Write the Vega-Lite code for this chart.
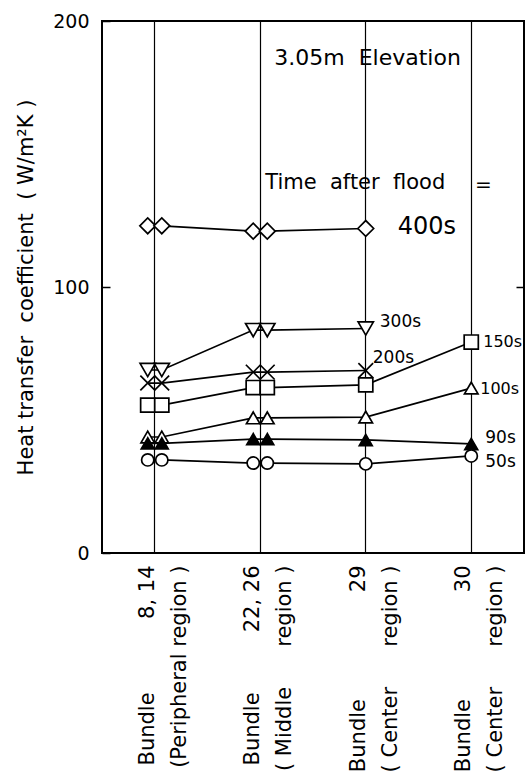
{
  "$schema": "https://vega.github.io/schema/vega-lite/v6.json",
  "width": 422,
  "height": 532,
  "autosize": {"type": "none"},
  "padding": {"left": 102, "top": 21, "right": 2, "bottom": 223},
  "background": "white",
  "config": {"view": {"stroke": "black", "strokeWidth": 2}, "font": "DejaVu Sans", "text": {"font": "DejaVu Sans", "color": "black"}},
  "data": {"values": [
    {"series": "400s", "bundle": 8, "region": "8, 14", "member": "first", "value": 123},
    {"series": "400s", "bundle": 14, "region": "8, 14", "member": "second", "value": 123},
    {"series": "400s", "bundle": 22, "region": "22, 26", "member": "first", "value": 121},
    {"series": "400s", "bundle": 26, "region": "22, 26", "member": "second", "value": 121},
    {"series": "400s", "bundle": 29, "region": "29", "member": "single", "value": 122},
    {"series": "300s", "bundle": 8, "region": "8, 14", "member": "first", "value": 68.8},
    {"series": "300s", "bundle": 14, "region": "8, 14", "member": "second", "value": 68.8},
    {"series": "300s", "bundle": 22, "region": "22, 26", "member": "first", "value": 83.8},
    {"series": "300s", "bundle": 26, "region": "22, 26", "member": "second", "value": 83.8},
    {"series": "300s", "bundle": 29, "region": "29", "member": "single", "value": 84.4},
    {"series": "200s", "bundle": 8, "region": "8, 14", "member": "first", "value": 63.9},
    {"series": "200s", "bundle": 14, "region": "8, 14", "member": "second", "value": 63.9},
    {"series": "200s", "bundle": 22, "region": "22, 26", "member": "first", "value": 68},
    {"series": "200s", "bundle": 26, "region": "22, 26", "member": "second", "value": 68},
    {"series": "200s", "bundle": 29, "region": "29", "member": "single", "value": 68.6},
    {"series": "150s", "bundle": 8, "region": "8, 14", "member": "first", "value": 55.6},
    {"series": "150s", "bundle": 14, "region": "8, 14", "member": "second", "value": 55.6},
    {"series": "150s", "bundle": 22, "region": "22, 26", "member": "first", "value": 62.2},
    {"series": "150s", "bundle": 26, "region": "22, 26", "member": "second", "value": 62.2},
    {"series": "150s", "bundle": 29, "region": "29", "member": "single", "value": 63.2},
    {"series": "150s", "bundle": 30, "region": "30", "member": "single", "value": 79.3},
    {"series": "100s", "bundle": 8, "region": "8, 14", "member": "first", "value": 43.6},
    {"series": "100s", "bundle": 14, "region": "8, 14", "member": "second", "value": 43.6},
    {"series": "100s", "bundle": 22, "region": "22, 26", "member": "first", "value": 50.8},
    {"series": "100s", "bundle": 26, "region": "22, 26", "member": "second", "value": 50.8},
    {"series": "100s", "bundle": 29, "region": "29", "member": "single", "value": 51.1},
    {"series": "100s", "bundle": 30, "region": "30", "member": "single", "value": 62},
    {"series": "90s", "bundle": 8, "region": "8, 14", "member": "first", "value": 41.2},
    {"series": "90s", "bundle": 14, "region": "8, 14", "member": "second", "value": 41.2},
    {"series": "90s", "bundle": 22, "region": "22, 26", "member": "first", "value": 42.8},
    {"series": "90s", "bundle": 26, "region": "22, 26", "member": "second", "value": 42.8},
    {"series": "90s", "bundle": 29, "region": "29", "member": "single", "value": 42.5},
    {"series": "90s", "bundle": 30, "region": "30", "member": "single", "value": 41},
    {"series": "50s", "bundle": 8, "region": "8, 14", "member": "first", "value": 35},
    {"series": "50s", "bundle": 14, "region": "8, 14", "member": "second", "value": 35},
    {"series": "50s", "bundle": 22, "region": "22, 26", "member": "first", "value": 33.8},
    {"series": "50s", "bundle": 26, "region": "22, 26", "member": "second", "value": 33.8},
    {"series": "50s", "bundle": 29, "region": "29", "member": "single", "value": 33.5},
    {"series": "50s", "bundle": 30, "region": "30", "member": "single", "value": 36.5}
  ]},
  "resolve": {"axis": {"y": "independent"}},
  "layer": [
    {
      "encoding": {
        "x": {
          "field": "region", "type": "nominal",
          "sort": ["8, 14", "22, 26", "29", "30"],
          "scale": {"type": "band", "paddingInner": 0, "paddingOuter": 0},
          "axis": {
            "title": null, "domain": false, "ticks": false,
            "grid": true, "gridColor": "black", "gridWidth": 1.2, "gridOpacity": 1, "bandPosition": 0.5,
            "labelAngle": -90, "labelAlign": "right", "labelBaseline": "middle", "labelOffset": -7,
            "labelFontSize": 21, "labelLineHeight": 32, "labelPadding": 12, "labelColor": "black", "labelFont": "DejaVu Sans",
            "labelLimit": 0, "labelOverlap": false, "labelBound": false,
            "labelExpr": "datum.value == '8, 14' ? ['Bundle\u00a0\u00a0\u00a0\u00a0\u00a0\u00a0\u00a0\u00a0\u00a0\u00a0\u00a08,\u00a014', '(Peripheral\u00a0region\u00a0)'] : datum.value == '22, 26' ? ['Bundle\u00a0\u00a0\u00a0\u00a0\u00a0\u00a0\u00a0\u00a0\u00a022,\u00a026', '(\u00a0Middle\u00a0\u00a0\u00a0\u00a0\u00a0\u00a0region\u00a0)\u00a0\u00a0\u00a0'] : datum.value == '29' ? ['Bundle\u00a0\u00a0\u00a0\u00a0\u00a0\u00a0\u00a0\u00a0\u00a0\u00a0\u00a0\u00a0\u00a0\u00a0\u00a0\u00a029\u00a0\u00a0\u00a0', '(\u00a0Center\u00a0\u00a0\u00a0\u00a0\u00a0\u00a0region\u00a0)\u00a0\u00a0'] : ['Bundle\u00a0\u00a0\u00a0\u00a0\u00a0\u00a0\u00a0\u00a0\u00a0\u00a0\u00a0\u00a0\u00a0\u00a0\u00a0\u00a030\u00a0\u00a0\u00a0', '(\u00a0Center\u00a0\u00a0\u00a0\u00a0\u00a0\u00a0region\u00a0)\u00a0\u00a0']"
          }
        },
        "xOffset": {
          "field": "member", "type": "nominal",
          "scale": {"type": "band", "paddingInner": 0, "paddingOuter": 1,
                    "domain": ["s1", "s2", "s3", "s4", "s5", "first", "single", "second", "s6", "s7", "s8", "s9", "s10"]}
        },
        "y": {
          "field": "value", "type": "quantitative",
          "scale": {"domain": [0, 200]},
          "axis": {
            "values": [0, 100, 200], "title": "Heat\u00a0transfer\u00a0\u00a0coefficient\u00a0\u00a0(\u00a0W/m²K\u00a0)",
            "titleFont": "DejaVu Sans", "titleFontSize": 21, "titleFontWeight": "normal", "titleColor": "black", "titlePadding": 16,
            "labelFontSize": 19, "labelColor": "black", "labelFont": "DejaVu Sans", "labelPadding": 21,
            "domain": false, "grid": false, "ticks": true, "tickSize": -8, "tickColor": "black", "tickWidth": 1.5
          }
        }
      },
      "layer": [
        {
          "mark": {"type": "line", "color": "black", "strokeWidth": 1.7},
          "encoding": {"detail": {"field": "series"}, "order": {"field": "bundle", "type": "quantitative"}}
        },
        {
          "mark": {"type": "point", "filled": true, "stroke": "black", "strokeWidth": 1.7, "opacity": 1},
          "encoding": {
            "shape": {"field": "series", "type": "nominal", "legend": null,
              "scale": {"domain": ["400s", "300s", "200s", "150s", "100s", "90s", "50s"],
                        "range": ["diamond", "triangle-down", "M-1,-1L1,1M-1,1L1,-1", "square", "triangle-up", "triangle-up", "circle"]}},
            "fill": {"field": "series", "type": "nominal", "legend": null,
              "scale": {"domain": ["400s", "300s", "200s", "150s", "100s", "90s", "50s"],
                        "range": ["white", "white", "white", "white", "white", "black", "white"]}},
            "size": {"field": "series", "type": "nominal", "legend": null,
              "scale": {"domain": ["400s", "300s", "200s", "150s", "100s", "90s", "50s"],
                        "range": [250, 150, 130, 130, 150, 150, 130]}}
          }
        },
        {
          "transform": [{"filter": "datum.series == '400s' && datum.bundle == 29"}],
          "mark": {"type": "text", "text": "400s", "align": "left", "baseline": "middle", "dx": 32, "dy": -1, "fontSize": 24},
          "encoding": {}
        },
        {
          "transform": [{"filter": "datum.series == '300s' && datum.bundle == 29"}],
          "mark": {"type": "text", "text": "300s", "align": "left", "baseline": "middle", "dx": 14, "dy": -6, "fontSize": 17},
          "encoding": {}
        },
        {
          "transform": [{"filter": "datum.series == '200s' && datum.bundle == 29"}],
          "mark": {"type": "text", "text": "200s", "align": "left", "baseline": "middle", "dx": 7, "dy": -13, "fontSize": 17},
          "encoding": {}
        },
        {
          "transform": [{"filter": "datum.series == '150s' && datum.bundle == 30"}],
          "mark": {"type": "text", "text": "150s", "align": "left", "baseline": "middle", "dx": 12, "dy": 0, "fontSize": 16},
          "encoding": {}
        },
        {
          "transform": [{"filter": "datum.series == '100s' && datum.bundle == 30"}],
          "mark": {"type": "text", "text": "100s", "align": "left", "baseline": "middle", "dx": 9, "dy": 1, "fontSize": 16},
          "encoding": {}
        },
        {
          "transform": [{"filter": "datum.series == '90s' && datum.bundle == 30"}],
          "mark": {"type": "text", "text": "90s", "align": "left", "baseline": "middle", "dx": 14, "dy": -6, "fontSize": 17},
          "encoding": {}
        },
        {
          "transform": [{"filter": "datum.series == '50s' && datum.bundle == 30"}],
          "mark": {"type": "text", "text": "50s", "align": "left", "baseline": "middle", "dx": 14, "dy": 6, "fontSize": 17},
          "encoding": {}
        }
      ]
    },
    {
      "data": {"values": [{}]},
      "mark": {"type": "text", "text": "3.05m\u00a0\u00a0Elevation", "align": "left", "baseline": "middle", "dx": 14, "fontSize": 22},
      "encoding": {
        "x": {"datum": "22, 26", "type": "nominal"},
        "y": {"datum": 186, "type": "quantitative", "axis": null}
      }
    },
    {
      "data": {"values": [{}]},
      "mark": {"type": "text", "text": "Time\u00a0\u00a0after\u00a0\u00a0flood", "align": "left", "baseline": "middle", "dx": 5, "fontSize": 21},
      "encoding": {
        "x": {"datum": "22, 26", "type": "nominal"},
        "y": {"datum": 139, "type": "quantitative", "axis": null}
      }
    },
    {
      "data": {"values": [{}]},
      "mark": {"type": "text", "text": "=", "align": "center", "baseline": "middle", "dx": 12, "fontSize": 20},
      "encoding": {
        "x": {"datum": "30", "type": "nominal"},
        "y": {"datum": 138.5, "type": "quantitative",
              "axis": {"orient": "right", "values": [100], "labels": false, "domain": false, "grid": false, "title": null,
                       "ticks": true, "tickSize": -8, "tickColor": "black", "tickWidth": 1.5}}
      }
    }
  ]
}
